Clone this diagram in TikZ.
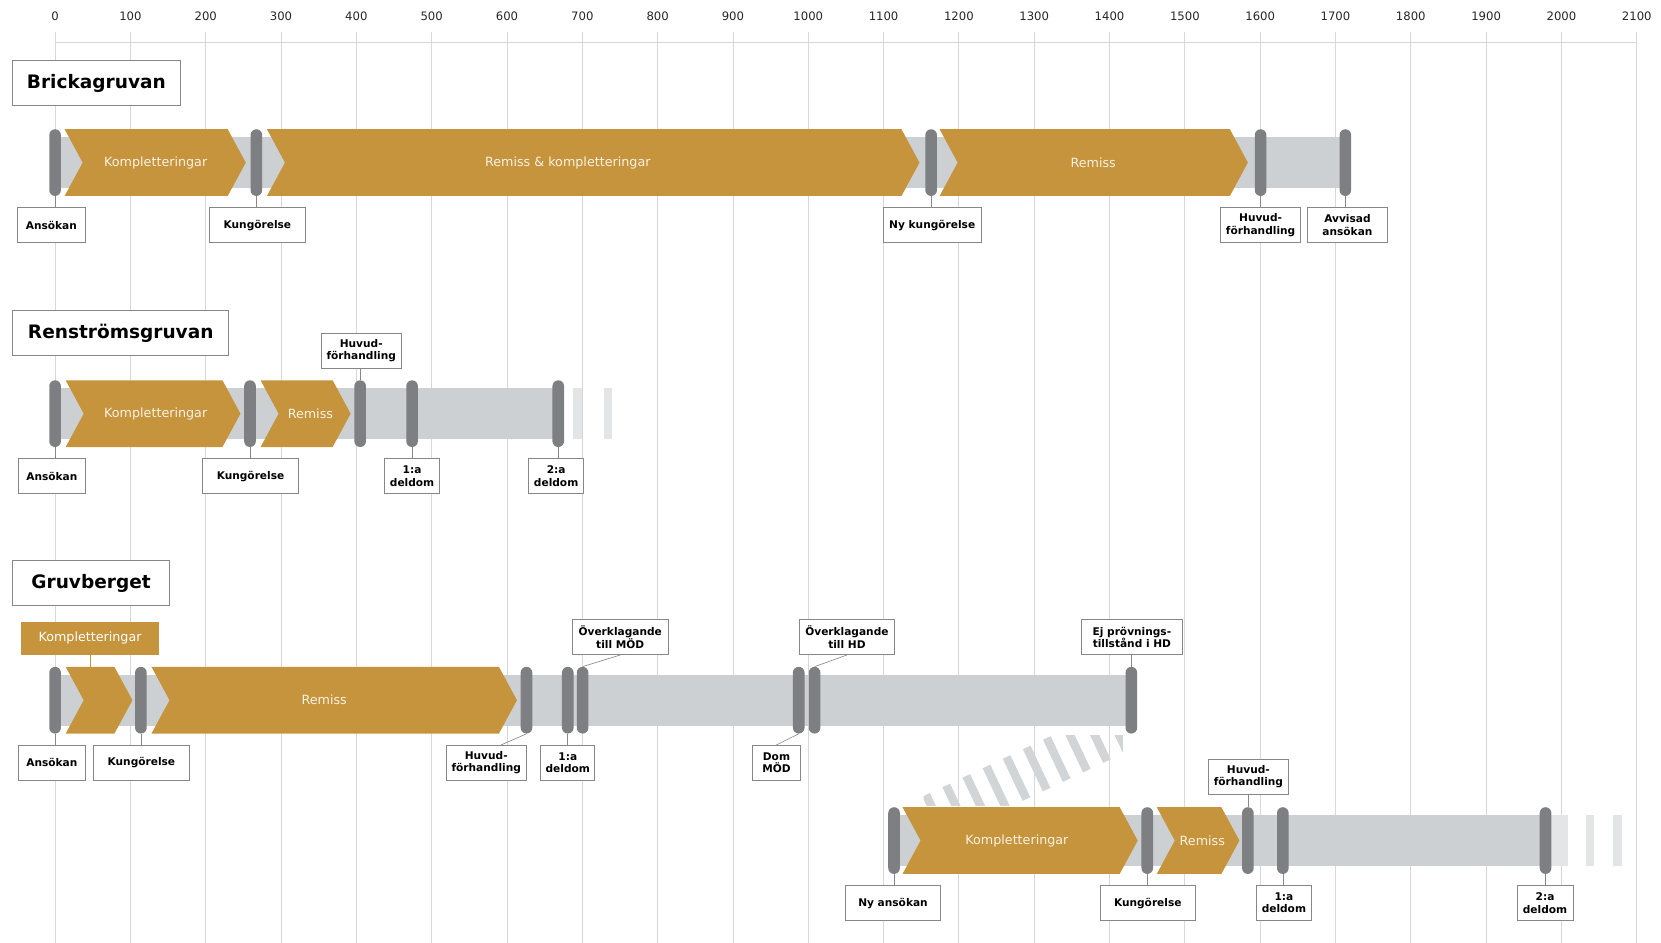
\documentclass[tikz,border=0pt]{standalone}
\usepackage{fontspec}
\setmainfont{DejaVu Sans}
\definecolor{gold}{RGB}{197,148,60}
\definecolor{bandgrey}{RGB}{205,208,210}
\definecolor{fadegrey}{RGB}{226,228,229}
\definecolor{markgrey}{RGB}{125,127,131}
\definecolor{gridgrey}{RGB}{218,214,214}
\definecolor{boxgrey}{RGB}{135,135,135}
\definecolor{cream}{RGB}{248,242,228}
\newcommand{\chevbody}[3]{% left edge, tip, centre line
  \fill[gold] (#1,#3-31.5) -- (#2-17,#3-31.5) -- (#2,#3) -- (#2-17,#3+31.5) -- (#1,#3+31.5) -- (#1+17,#3) -- cycle;}
\newcommand{\greyband}[3]{% from, to, centre line
  \fill[bandgrey] (#1,#3-24) rectangle (#2,#3+24);}
\tikzset{
  gridline/.style={draw=gridgrey, line width=0.8pt},
  ticklabel/.style={text=black!85, font=\fontsize{11}{13}\selectfont},
  marker/.style={fill=markgrey, rounded corners=5.5pt, minimum width=11, minimum height=63, inner sep=0pt},
  chevtext/.style={text=cream, font=\fontsize{12}{14}\selectfont},
  evbox/.style={draw=boxgrey, line width=0.7pt, fill=white, align=center, inner sep=1pt, minimum height=33, font=\bfseries\fontsize{10}{11.5}\selectfont},
  titlebox/.style={draw=boxgrey, line width=0.8pt, fill=white, minimum height=42, font=\bfseries\fontsize{17.5}{20}\selectfont},
  link/.style={draw=boxgrey, line width=0.6pt},
  stripe/.style={draw=bandgrey!90!white, line width=44pt, dash pattern=on 8pt off 13pt},
}
\begin{document}
\begin{tikzpicture}[x=1pt, y=-1pt]
\path[use as bounding box] (0,0) rectangle (1568,890);

% Days axis and grid
\foreach \v in {0,100,...,2100}{
  \pgfmathsetmacro{\gx}{52+0.711*\v}
  \draw[gridline] (\gx,30) -- (\gx,890);
  \node[ticklabel] (tick\v) at (\gx,15) {\v};
}
\draw[gridline] (52,40) -- (1545.1,40);

% Titles
\node[titlebox, minimum width=158] (brick) at (91,78.5) {Brickagruvan};
\node[titlebox, minimum width=204] (renst) at (114,314.5) {Renströmsgruvan};
\node[titlebox, minimum width=148] (gruv) at (86,550.5) {Gruvberget};

% Brickagruvan
\greyband{52}{1270}{153.5}
\chevbody{61}{232}{153.5}
\chevbody{252}{868}{153.5}
\chevbody{887}{1178}{153.5}
\node[chevtext] (b-komp) at (147,153.5) {Kompletteringar};
\node[chevtext] (b-remkomp) at (536,153.5) {Remiss \& kompletteringar};
\node[chevtext] (b-rem) at (1032,153.5) {Remiss};
\node[marker] (b-ans) at (52,153.5) {};
\node[marker] (b-kung) at (242,153.5) {};
\node[marker] (b-nykung) at (879,153.5) {};
\node[marker] (b-huvud) at (1190,153.5) {};
\node[marker] (b-avv) at (1270,153.5) {};
\node[evbox, minimum width=64] (lb-ans) at (48.5,212.5) {Ansökan};
\node[evbox, minimum width=90] (lb-kung) at (243,212.5) {Kungörelse};
\node[evbox, minimum width=93] (lb-nykung) at (880,212.5) {Ny kungörelse};
\node[evbox, minimum width=76] (lb-huvud) at (1190,212.5) {Huvud-\\förhandling};
\node[evbox, minimum width=76] (lb-avv) at (1272,212.5) {Avvisad\\ansökan};
\draw[link] (b-ans.south) -- (b-ans.south |- lb-ans.north);
\draw[link] (b-kung.south) -- (b-kung.south |- lb-kung.north);
\draw[link] (b-nykung.south) -- (b-nykung.south |- lb-nykung.north);
\draw[link] (b-huvud.south) -- (b-huvud.south |- lb-huvud.north);
\draw[link] (b-avv.south) -- (b-avv.south |- lb-avv.north);

% Renströmsgruvan
\greyband{52}{527}{390.5}
\fill[fadegrey] (541,366.5) rectangle (549,414.5);
\fill[fadegrey] (570,366.5) rectangle (578,414.5);
\chevbody{62}{227}{390.5}
\chevbody{246}{331}{390.5}
\node[chevtext] (r-komp) at (147,390.5) {Kompletteringar};
\node[chevtext] (r-rem) at (293,390.5) {Remiss};
\node[marker] (r-ans) at (52,390.5) {};
\node[marker] (r-kung) at (236,390.5) {};
\node[marker] (r-huvud) at (340,390.5) {};
\node[marker] (r-del1) at (389,390.5) {};
\node[marker] (r-del2) at (527,390.5) {};
\node[evbox, minimum width=76] (lr-huvud) at (341,331) {Huvud-\\förhandling};
\node[evbox, minimum width=64] (lr-ans) at (49,449.5) {Ansökan};
\node[evbox, minimum width=90] (lr-kung) at (236.5,449.5) {Kungörelse};
\node[evbox, minimum width=52] (lr-del1) at (389,449.5) {1:a\\deldom};
\node[evbox, minimum width=52] (lr-del2) at (525,449.5) {2:a\\deldom};
\draw[link] (r-huvud.north) -- (r-huvud.north |- lr-huvud.south);
\draw[link] (r-ans.south) -- (r-ans.south |- lr-ans.north);
\draw[link] (r-kung.south) -- (r-kung.south |- lr-kung.north);
\draw[link] (r-del1.south) -- (r-del1.south |- lr-del1.north);
\draw[link] (r-del2.south) -- (r-del2.south |- lr-del2.north);

% Gruvberget
\greyband{52}{1068}{661}
\chevbody{62}{125}{661}
\chevbody{143}{488}{661}
\node[chevtext] (g-rem) at (306,661) {Remiss};
\node[fill=gold, text=white, minimum width=130, minimum height=31, font=\fontsize{12}{14}\selectfont] (g-kbox) at (85,602.5) {Kompletteringar};
\coordinate (g-kchev) at (85,629.5);
\draw[gold, line width=0.8pt] (g-kbox.south) -- (g-kchev);
\node[marker] (g-ans) at (52,661) {};
\node[marker] (g-kung) at (133,661) {};
\node[marker] (g-huvud) at (497,661) {};
\node[marker] (g-del1) at (536,661) {};
\node[marker] (g-omod) at (550,661) {};
\node[marker] (g-dommod) at (754,661) {};
\node[marker] (g-ohd) at (769,661) {};
\node[marker] (g-ejpt) at (1068,661) {};
\node[evbox, minimum width=64] (lg-ans) at (49,720) {Ansökan};
\node[evbox, minimum width=90] (lg-kung) at (133.5,720) {Kungörelse};
\node[evbox, minimum width=75] (lg-huvud) at (459,720) {Huvud-\\förhandling};
\node[evbox, minimum width=51] (lg-del1) at (536,720) {1:a\\deldom};
\node[evbox, minimum width=46] (lg-dommod) at (733,720) {Dom\\MÖD};
\node[evbox, minimum width=90] (lg-omod) at (585.5,601.5) {Överklagande\\till MÖD};
\node[evbox, minimum width=89] (lg-ohd) at (799.5,601.5) {Överklagande\\till HD};
\node[evbox, minimum width=96] (lg-ejpt) at (1068.5,601.5) {Ej prövnings-\\tillstånd i HD};
\draw[link] (g-ans.south) -- (g-ans.south |- lg-ans.north);
\draw[link] (g-kung.south) -- (g-kung.south |- lg-kung.north);
\draw[link] (g-huvud.south) -- (lg-huvud.50);
\draw[link] (g-del1.south) -- (g-del1.south |- lg-del1.north);
\draw[link] (g-dommod.south) -- (lg-dommod.north);
\draw[link] (g-omod.north) -- (lg-omod.south);
\draw[link] (g-ohd.north) -- (lg-ohd.south);
\draw[link] (g-ejpt.north) -- (g-ejpt.north |- lg-ejpt.south);

% Link down to the new application
\begin{scope}
  \clip (872,694) rectangle (1060,760);
  \draw[stripe] (880,772) -- (1058,688);
\end{scope}

% Gruvberget, ny ansökan
\greyband{844}{1459}{793.5}
\fill[bandgrey!55!white] (1459,769.5) rectangle (1480,817.5);
\fill[fadegrey] (1497,769.5) rectangle (1505,817.5);
\fill[fadegrey] (1523,769.5) rectangle (1531,817.5);
\chevbody{852}{1074}{793.5}
\chevbody{1092}{1170}{793.5}
\node[chevtext] (n-komp) at (960,793.5) {Kompletteringar};
\node[chevtext] (n-rem) at (1135,793.5) {Remiss};
\node[marker] (n-ans) at (844,793.5) {};
\node[marker] (n-kung) at (1083,793.5) {};
\node[marker] (n-huvud) at (1178,793.5) {};
\node[marker] (n-del1) at (1211,793.5) {};
\node[marker] (n-del2) at (1459,793.5) {};
\node[evbox, minimum width=76] (ln-huvud) at (1178.5,733) {Huvud-\\förhandling};
\node[evbox, minimum width=90] (ln-nyans) at (843,852.5) {Ny ansökan};
\node[evbox, minimum width=90] (ln-kung) at (1083.5,852.5) {Kungörelse};
\node[evbox, minimum width=52] (ln-del1) at (1212,852.5) {1:a\\deldom};
\node[evbox, minimum width=53] (ln-del2) at (1458.5,852.5) {2:a\\deldom};
\draw[link] (n-huvud.north) -- (n-huvud.north |- ln-huvud.south);
\draw[link] (n-ans.south) -- (n-ans.south |- ln-nyans.north);
\draw[link] (n-kung.south) -- (n-kung.south |- ln-kung.north);
\draw[link] (n-del1.south) -- (n-del1.south |- ln-del1.north);
\draw[link] (n-del2.south) -- (n-del2.south |- ln-del2.north);
\end{tikzpicture}
\end{document}
